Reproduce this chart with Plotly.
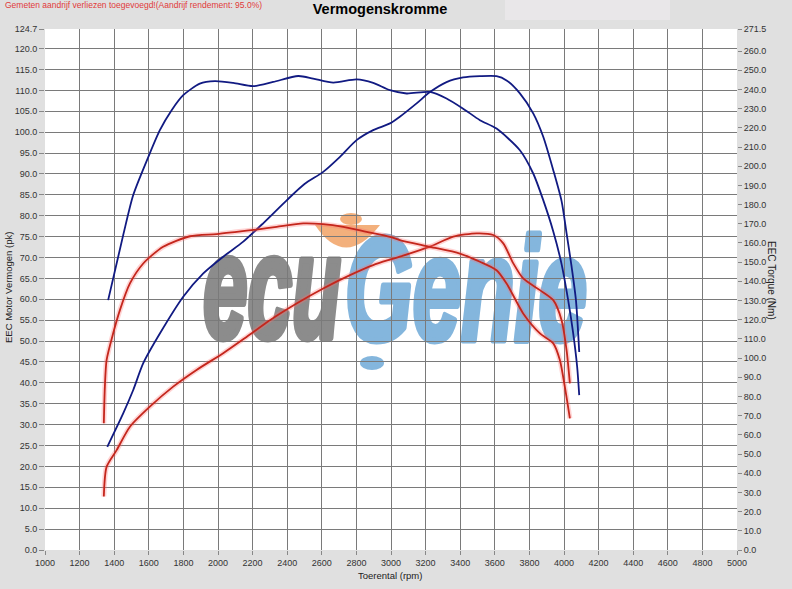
import base64
import plotly.graph_objects as go

# ---------------- data ----------------
# tuned power (pk, left axis)
rpm_pow_tuned = [1360, 1452, 1510, 1568, 1664, 1799, 1915, 2030, 2146, 2261, 2397, 2500, 2608,
                 2705, 2801, 2897, 2994, 3051, 3148, 3225, 3321, 3417, 3514, 3610, 3668, 3745,
                 3822, 3880, 3938, 3986, 4015, 4044, 4069, 4088]
pow_tuned = [24.7, 32.7, 38.3, 44.7, 51.8, 60.6, 66.2, 70.2, 73.8, 78.2, 83.7, 87.6, 90.5,
             94.1, 98.1, 100.5, 102.1, 103.7, 106.9, 109.6, 112.0, 113.1, 113.4, 113.4, 112.4, 109.3,
             104.5, 98.9, 90.9, 83.5, 75.8, 67.8, 59.8, 47.4]

# tuned torque (Nm, right axis)
rpm_tq_tuned = [1365, 1452, 1510, 1597, 1664, 1732, 1799, 1895, 1982, 2088, 2203, 2319, 2464,
                2550, 2666, 2801, 2897, 2994, 3090, 3225, 3321, 3417, 3514, 3610, 3745, 3822,
                3880, 3938, 3986, 4024, 4053, 4076, 4088]
tq_tuned = [130.2, 164.1, 185.0, 204.8, 218.8, 229.2, 237.0, 243.0, 244.3, 243.4, 241.7, 243.9, 247.0,
            245.7, 243.6, 245.2, 243.4, 239.6, 237.9, 238.7, 235.3, 230.0, 224.0, 219.6, 208.3, 196.2,
            182.3, 166.0, 149.0, 130.2, 113.0, 95.5, 80.7]

# stock power (pk, left axis)
rpm_pow_stock = [1340, 1356, 1414, 1491, 1606, 1741, 1876, 2030, 2165, 2300, 2454, 2608, 2763,
                 2897, 2994, 3051, 3225, 3360, 3495, 3591, 3649, 3707, 3764, 3861, 3938, 3986,
                 4015, 4034]
pow_stock = [12.8, 19.9, 23.9, 29.5, 34.3, 39.1, 43.1, 47.1, 51.0, 55.0, 59.0, 62.6, 65.8,
             68.2, 69.5, 70.2, 72.6, 75.0, 75.8, 75.4, 73.4, 68.6, 65.0, 62.2, 59.8, 55.0,
             47.8, 39.9]

# stock torque (Nm, right axis)
rpm_tq_stock = [1340, 1346, 1356, 1394, 1433, 1491, 1568, 1683, 1838, 1992, 2108, 2223, 2339,
                2493, 2608, 2724, 2859, 2994, 3051, 3225, 3398, 3514, 3610, 3668, 3764, 3861,
                3938, 3976, 4005, 4034]
tq_stock = [66.0, 85.0, 99.0, 112.9, 125.0, 138.9, 149.3, 158.0, 163.5, 164.6, 165.8, 167.0, 168.4,
            170.2, 169.8, 168.4, 165.8, 163.2, 161.5, 158.0, 154.5, 150.2, 145.8, 138.9, 123.3, 112.9,
            107.7, 99.0, 85.0, 68.6]

x_ticks = list(range(1000, 5001, 200))
y_left_ticks = [v * 5.0 for v in range(25)] + [124.7]
y_right_ticks = [v * 10.0 for v in range(27)] + [271.5]

title_text = "Vermogenskromme"
note_text = "Gemeten aandrijf verliezen toegevoegd!(Aandrijf rendement: 95.0%)"
x_title = "Toerental (rpm)"
y_title = "EEC Motor Vermogen (pk)"
y2_title = "EEC Torque (Nm)"

# ---------------- figure ----------------
W, H = 792, 589
L, R, T, B = 45, 55, 29, 39
PW, PH = W - L - R, H - T - B


def px(x):
    return (x - L) / PW


def py(y):
    return (H - B - y) / PH


BLUE = "#111a82"
RED = "#c4261c"
GLOW = "rgba(255,110,110,0.30)"
FONT = "Liberation Sans, Arial, sans-serif"

fig = go.Figure()

for xs, ys, col, ax in [
    (rpm_pow_stock, pow_stock, RED, "y"),
    (rpm_tq_stock, tq_stock, RED, "y2"),
]:
    fig.add_trace(go.Scatter(x=xs, y=ys, mode="lines", yaxis=ax, hoverinfo="skip",
                             line=dict(color=GLOW, width=5, shape="spline", smoothing=0.7)))
    fig.add_trace(go.Scatter(x=xs, y=ys, mode="lines", yaxis=ax,
                             line=dict(color=col, width=1.8, shape="spline", smoothing=0.7)))

fig.add_trace(go.Scatter(x=rpm_pow_tuned, y=pow_tuned, mode="lines", yaxis="y",
                         line=dict(color=BLUE, width=1.8, shape="spline", smoothing=0.7)))
fig.add_trace(go.Scatter(x=rpm_tq_tuned, y=tq_tuned, mode="lines", yaxis="y2",
                         line=dict(color=BLUE, width=1.8, shape="spline", smoothing=0.7)))

# watermark logo (decoration)
svg = '''<svg xmlns="http://www.w3.org/2000/svg" width="400" height="165" viewBox="0 0 400 165">
<path d="M120,15 Q150,60 185,15 Z" fill="#f3b07c"/>
<ellipse cx="156" cy="9" rx="11" ry="6" fill="#f3b07c"/>
<text x="8" y="128" font-family="Liberation Sans, Arial, sans-serif" font-weight="bold" font-style="italic"
 font-size="146" fill="#8c8c8c" stroke="#8c8c8c" stroke-width="7" stroke-linejoin="round"
 textLength="138" lengthAdjust="spacingAndGlyphs">ecu</text>
<text x="150" y="130" font-family="Liberation Sans, Arial, sans-serif" font-weight="bold" font-style="italic"
 font-size="146" fill="#84b6dd" stroke="#84b6dd" stroke-width="7" stroke-linejoin="round"
 textLength="242" lengthAdjust="spacingAndGlyphs">Genie</text>
<ellipse cx="177" cy="153" rx="12" ry="7" fill="#84b6dd"/>
</svg>'''
src = "data:image/svg+xml;base64," + base64.b64encode(svg.encode()).decode()
fig.add_layout_image(dict(source=src, xref="paper", yref="paper", x=px(195), y=py(210),
                          sizex=400 / PW, sizey=165 / PH, xanchor="left", yanchor="top",
                          sizing="stretch", layer="below", opacity=1))

fig.update_layout(
    width=W, height=H,
    margin=dict(l=L, r=R, t=T, b=B),
    paper_bgcolor="#e0e0e0",
    plot_bgcolor="#ffffff",
    showlegend=False,
    font=dict(family=FONT, size=9, color="#333333"),
    title=dict(text="<b>" + title_text + "</b>", x=380 / W, xanchor="center", y=1 - 9 / H,
               yanchor="middle", font=dict(family=FONT, size=14.5, color="#000000")),
    xaxis=dict(range=[1000, 5000], tickvals=x_ticks, ticktext=[str(v) for v in x_ticks],
               showgrid=True, gridcolor="#7a7a7a", gridwidth=1, zeroline=False,
               ticks="outside", ticklen=4, tickcolor="#888888", showline=False,
               tickfont=dict(size=9, color="#333333")),
    yaxis=dict(range=[0, 124.7], tickvals=y_left_ticks, ticktext=[f"{v:.1f}" for v in y_left_ticks],
               showgrid=True, gridcolor="#7a7a7a", gridwidth=1, zeroline=False,
               ticks="outside", ticklen=5, tickcolor="#888888", showline=False,
               tickfont=dict(size=9, color="#333333")),
    yaxis2=dict(range=[0, 271.5], tickvals=y_right_ticks, ticktext=[f"{v:.1f}" for v in y_right_ticks],
                overlaying="y", side="right", showgrid=False, zeroline=False,
                ticks="outside", ticklen=4, tickcolor="#888888", showline=False,
                tickfont=dict(size=9, color="#333333")),
    annotations=[
        dict(text=note_text, xref="paper", yref="paper", x=px(3), y=py(5), xanchor="left",
             yanchor="middle", showarrow=False, font=dict(size=8.5, color="#e03a3a", family=FONT)),
        dict(text=x_title, xref="paper", yref="paper", x=px(390), y=py(575), xanchor="center",
             yanchor="middle", showarrow=False, font=dict(size=9.5, color="#222222", family=FONT)),
        dict(text=y_title, xref="paper", yref="paper", x=px(8), y=py(288), xanchor="center",
             yanchor="middle", textangle=-90, showarrow=False,
             font=dict(size=9.5, color="#222222", family=FONT)),
        dict(text=y2_title, xref="paper", yref="paper", x=px(772), y=py(280), xanchor="center",
             yanchor="middle", textangle=90, showarrow=False,
             font=dict(size=10, color="#222222", family=FONT)),
    ],
    shapes=[
        dict(type="rect", xref="paper", yref="paper", x0=px(505), x1=px(670), y0=py(20), y1=py(0),
             fillcolor="#e9e7e9", line=dict(width=0), layer="below"),
    ],
)

fig.write_html("out.html", config={"displayModeBar": False},
               post_script="document.body.style.margin='0';document.body.style.padding='0';"
                           "document.body.style.background='#e0e0e0';")
